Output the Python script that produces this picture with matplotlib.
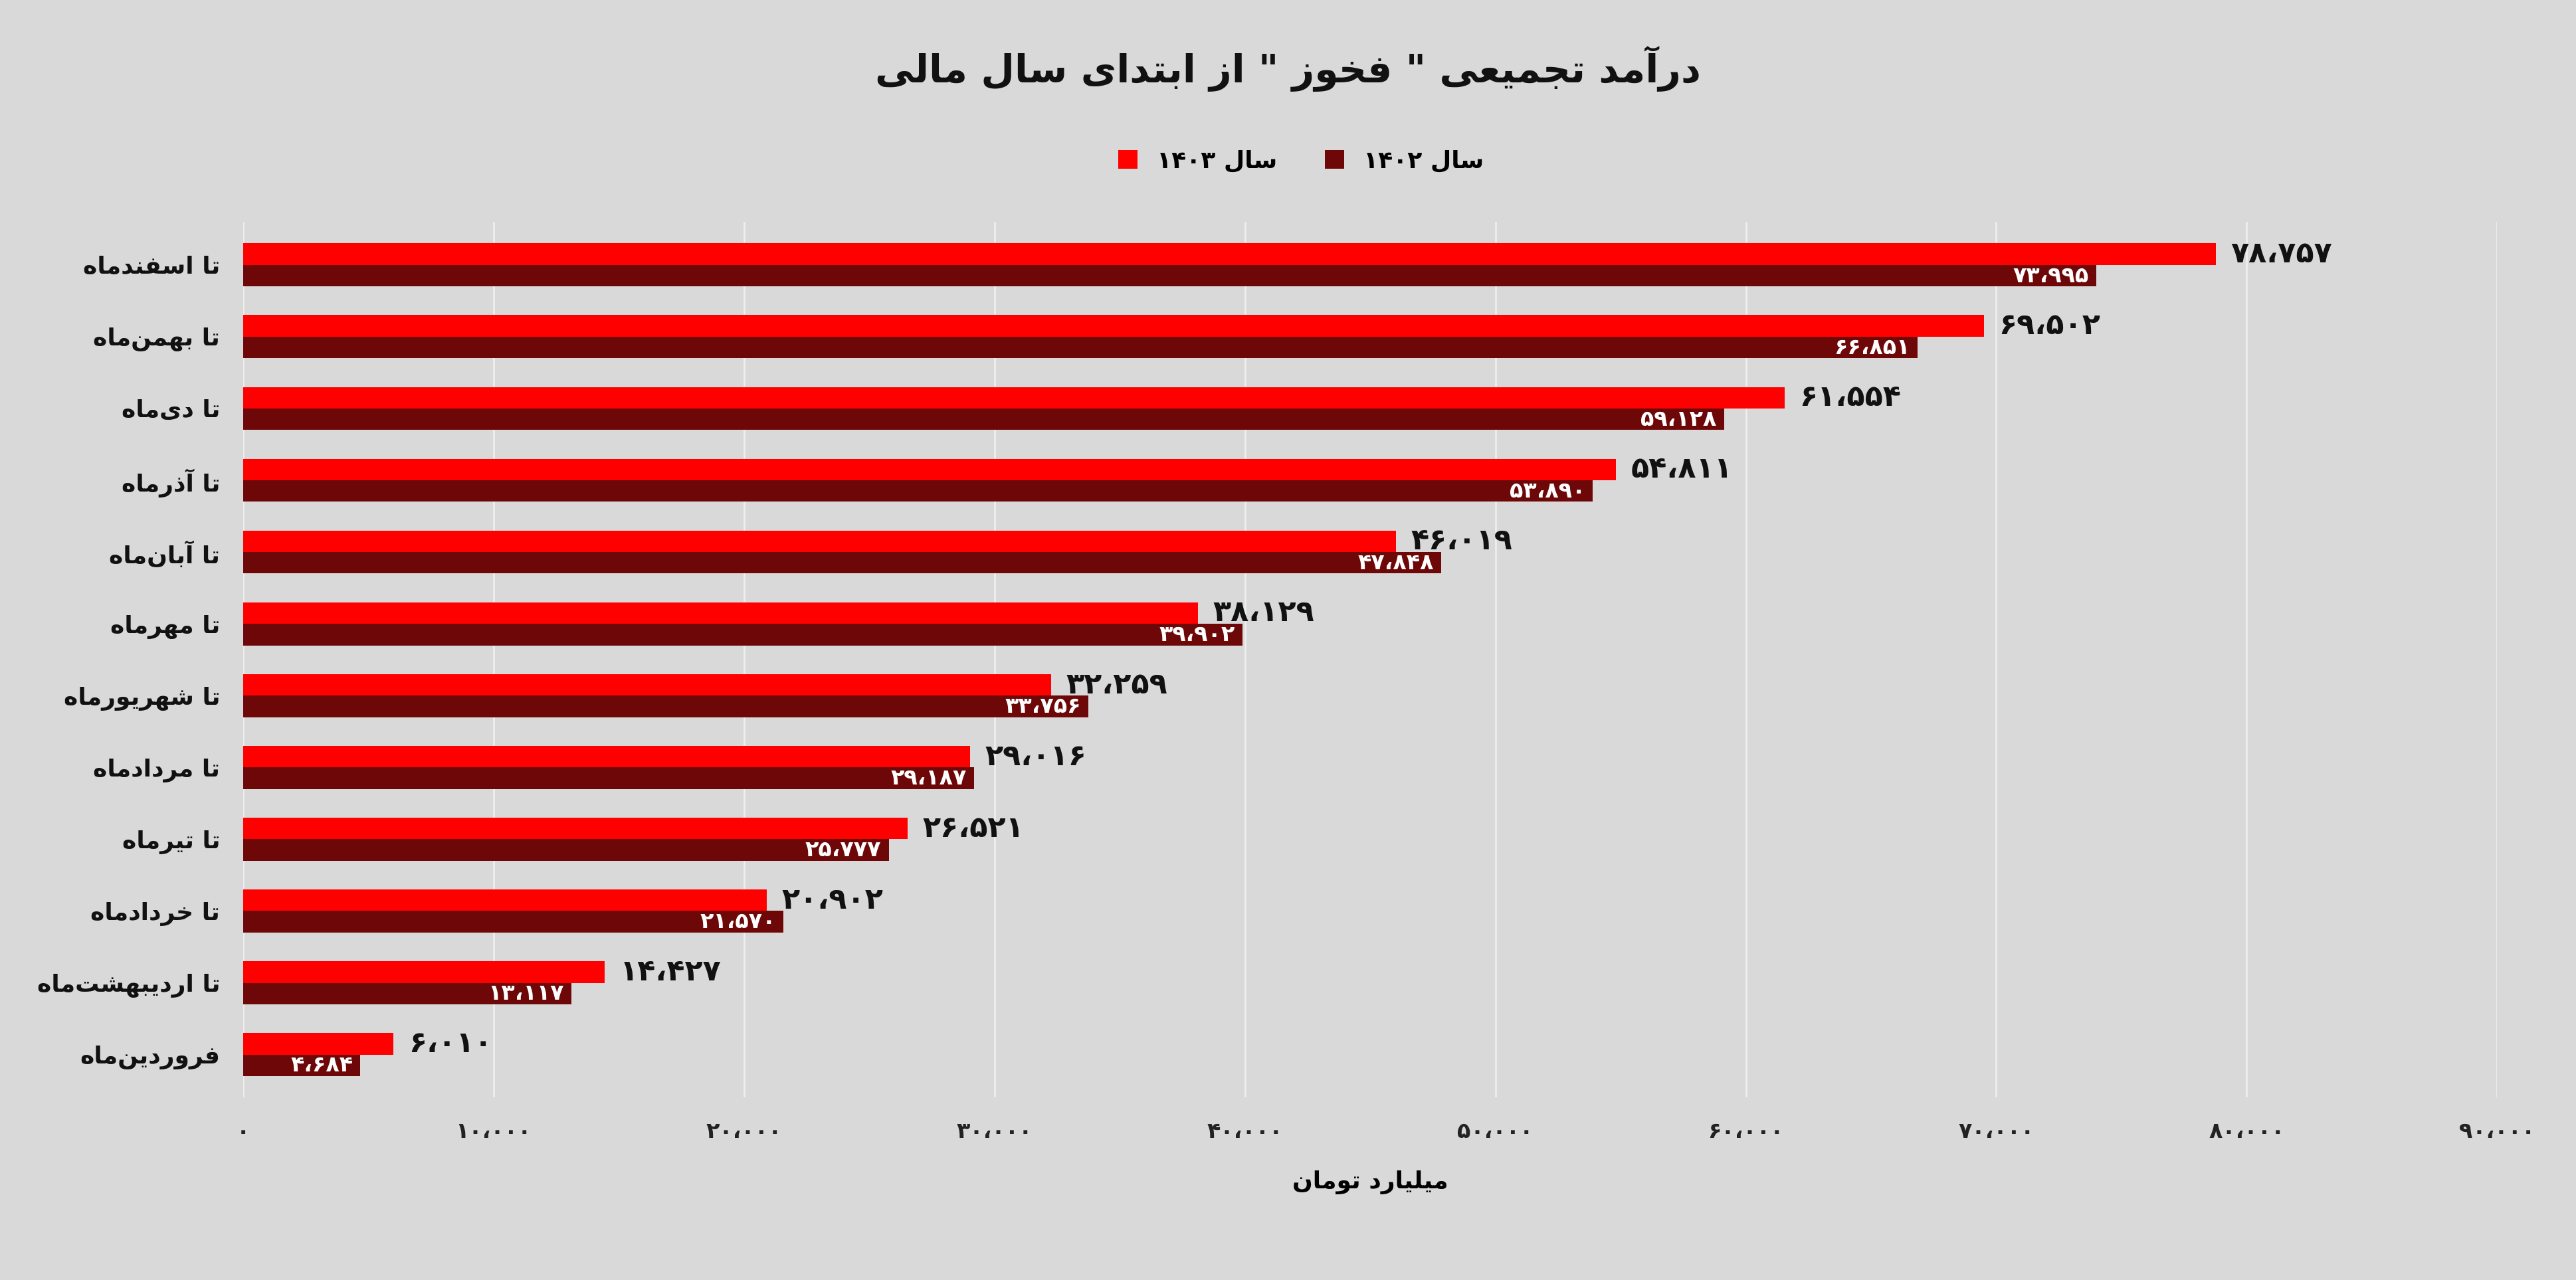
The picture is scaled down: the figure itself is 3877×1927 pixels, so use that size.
import matplotlib
matplotlib.use("Agg")
import matplotlib.pyplot as plt
import numpy as np

categories = ["فروردین‌ماه", "تا اردیبهشت‌ماه", "تا خردادماه", "تا تیرماه", "تا مردادماه",
              "تا شهریورماه", "تا مهرماه", "تا آبان‌ماه", "تا آذرماه", "تا دی‌ماه",
              "تا بهمن‌ماه", "تا اسفندماه"]
v1403 = [6010, 14427, 20902, 26521, 29016, 32259, 38129, 46019, 54811, 61554, 69502, 78757]
v1402 = [4684, 13117, 21570, 25777, 29187, 33756, 39902, 47848, 53890, 59128, 66851, 73995]
xticks = [0, 10000, 20000, 30000, 40000, 50000, 60000, 70000, 80000, 90000]
title = 'درآمد تجمیعی " فخوز " از ابتدای سال مالی'
xlabel = "میلیارد تومان"
leg1403 = "سال ۱۴۰۳"
leg1402 = "سال ۱۴۰۲"

F = {
 'ا': (0xFE8D, 0xFE8E), 'آ': (0xFE81, 0xFE82), 'د': (0xFEA9, 0xFEAA), 'ذ': (0xFEAB, 0xFEAC),
 'ر': (0xFEAD, 0xFEAE), 'ز': (0xFEAF, 0xFEB0), 'و': (0xFEED, 0xFEEE),
 'ب': (0xFE8F, 0xFE90, 0xFE91, 0xFE92), 'پ': (0xFB56, 0xFB57, 0xFB58, 0xFB59),
 'ت': (0xFE95, 0xFE96, 0xFE97, 0xFE98), 'ج': (0xFE9D, 0xFE9E, 0xFE9F, 0xFEA0),
 'چ': (0xFB7A, 0xFB7B, 0xFB7C, 0xFB7D), 'خ': (0xFEA5, 0xFEA6, 0xFEA7, 0xFEA8),
 'س': (0xFEB1, 0xFEB2, 0xFEB3, 0xFEB4), 'ش': (0xFEB5, 0xFEB6, 0xFEB7, 0xFEB8),
 'ع': (0xFEC9, 0xFECA, 0xFECB, 0xFECC), 'ف': (0xFED1, 0xFED2, 0xFED3, 0xFED4),
 'ک': (0xFB8E, 0xFB8F, 0xFB90, 0xFB91), 'گ': (0xFB92, 0xFB93, 0xFB94, 0xFB95),
 'ل': (0xFEDD, 0xFEDE, 0xFEDF, 0xFEE0), 'م': (0xFEE1, 0xFEE2, 0xFEE3, 0xFEE4),
 'ن': (0xFEE5, 0xFEE6, 0xFEE7, 0xFEE8), 'ه': (0xFEE9, 0xFEEA, 0xFEEB, 0xFEEC),
 'ی': (0xFBFC, 0xFBFD, 0xFBFE, 0xFBFF),
}

def shape(s):
    out = []
    for i, c in enumerate(s):
        if c not in F:
            if c != '\u200c':
                out.append(c)
            continue
        p = s[i-1] if i > 0 else ''
        n = s[i+1] if i+1 < len(s) else ''
        jp = p in F and len(F[p]) == 4
        jn = len(F[c]) == 4 and n in F
        f = F[c]
        if jp and jn: out.append(chr(f[3]))
        elif jp: out.append(chr(f[1]))
        elif jn: out.append(chr(f[2]))
        else: out.append(chr(f[0]))
    runs, cur, isd = [], '', None
    for c in out:
        d = c in '۰۱۲۳۴۵۶۷۸۹0123456789،'
        if isd is None or d == isd:
            cur += c
        else:
            runs.append((cur, isd)); cur = c
        isd = d
    if cur: runs.append((cur, isd))
    return ''.join(r if d else r[::-1] for r, d in runs[::-1])

def fa(n):
    s = f"{n:,}".replace(',', '،')
    return s.translate(str.maketrans('0123456789', '۰۱۲۳۴۵۶۷۸۹'))

plt.rcParams['font.family'] = ['DejaVu Sans']
bg = '#d9d9d9'
fig = plt.figure(figsize=(38.77, 19.27), dpi=100, facecolor=bg)
ax = fig.add_axes([148/1568, 1-668/779, (1520-148)/1568, (668-135)/779], facecolor=bg)
y = np.arange(len(categories))
h = 0.3
red, dark = '#ff0000', '#6e0808'
ax.barh(y + h/2, v1403, height=h, color=red, label=shape(leg1403), zorder=3)
ax.barh(y - h/2, v1402, height=h, color=dark, label=shape(leg1402), zorder=3)
for yi, a, b in zip(y, v1403, v1402):
    ax.text(a + 600, yi + h/2, fa(a), va='center', ha='left', fontsize=32, fontweight='bold', color='#111111', zorder=4)
    ax.text(b - 300, yi - h/2, fa(b), va='center', ha='right', fontsize=24, fontweight='bold', color='white', zorder=4)
ax.set_xlim(0, 90000)
ax.set_ylim(-0.6, len(categories) - 0.4)
ax.set_xticks(xticks)
ax.set_xticklabels([fa(t) for t in xticks], fontsize=24, fontweight='bold', color='#222222')
ax.set_yticks(y)
ax.set_yticklabels([shape(c) for c in categories], fontsize=26, fontweight='bold', color='#111111')
ax.tick_params(length=0, pad=25)
ax.grid(axis='x', color='#eeeeee', linewidth=2, zorder=0)
for sp in ax.spines.values():
    sp.set_visible(False)
ax.set_xlabel(shape(xlabel), fontsize=26, fontweight='bold', labelpad=30)
fig.text(0.5, 1-42/779, shape(title), ha='center', va='center', fontsize=42, fontweight='bold', color='#111111')
fig.legend(loc='center', bbox_to_anchor=(0.505, 1-98/779), ncol=2, frameon=False,
           prop={'weight': 'bold', 'size': 26}, handlelength=0.8, handleheight=0.8, columnspacing=2)
fig.savefig('out.png', dpi=100, facecolor=bg)
